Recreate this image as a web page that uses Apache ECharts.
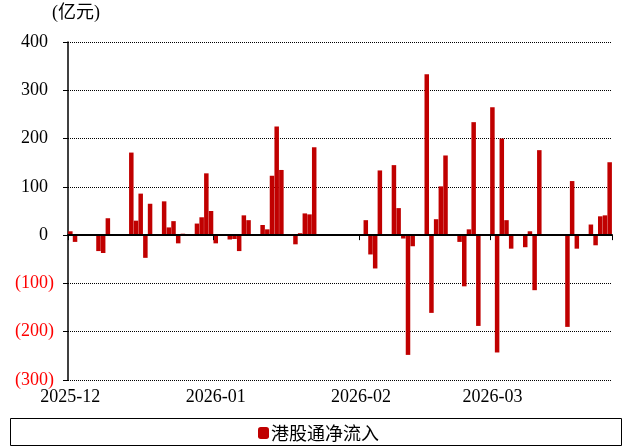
<!DOCTYPE html>
<html>
<head>
<meta charset="utf-8">
<script src="https://cdn.jsdelivr.net/npm/echarts@6/dist/echarts.min.js"></script>
<style>
  html, body { margin: 0; padding: 0; background: #fff; }
  #chart { width: 627px; height: 447px; }
</style>
</head>
<body>
<div id="chart"></div>
<script>
// 港股通净流入（亿元），按日
var tradeDates = [
  '2025-12-01', '2025-12-02', '2025-12-07', '2025-12-08', '2025-12-09',
  '2025-12-14', '2025-12-15', '2025-12-16', '2025-12-17', '2025-12-18',
  '2025-12-21', '2025-12-22', '2025-12-23', '2025-12-24', '2025-12-25',
  '2025-12-28', '2025-12-29', '2025-12-30', '2025-12-31', '2026-01-01',
  '2026-01-04', '2026-01-05', '2026-01-06', '2026-01-07', '2026-01-08',
  '2026-01-11', '2026-01-12', '2026-01-13', '2026-01-14', '2026-01-15',
  '2026-01-18', '2026-01-19', '2026-01-20', '2026-01-21', '2026-01-22',
  '2026-02-02', '2026-02-03', '2026-02-04', '2026-02-05',
  '2026-02-08', '2026-02-09', '2026-02-10', '2026-02-11', '2026-02-12',
  '2026-02-15', '2026-02-16', '2026-02-17', '2026-02-18', '2026-02-19',
  '2026-02-22', '2026-02-23', '2026-02-24', '2026-02-25', '2026-02-26',
  '2026-03-01', '2026-03-02', '2026-03-03', '2026-03-04', '2026-03-05',
  '2026-03-08', '2026-03-09', '2026-03-10', '2026-03-11',
  '2026-03-17', '2026-03-18', '2026-03-19',
  '2026-03-22', '2026-03-23', '2026-03-24', '2026-03-25', '2026-03-26'
];
var netInflow = [
  8, -14, -33, -37, 35,
  171, 30, 86, -47, 65,
  70, 16, 29, -17, 3,
  24, 37, 128, 50, -17,
  -9, -8, -33, 41, 31,
  21, 12, 123, 225, 135,
  -19, 4, 45, 43, 182,
  31, -40, -69, 134,
  145, 56, -7, -248, -23,
  333, -161, 33, 101, 165,
  -14, -106, 12, 234, -188,
  265, -243, 200, 31, -28,
  -25, 8, -114, 176,
  -190, 112, -28,
  22, -21, 39, 41, 151
];
var monthLabels = ['2025-12', '2026-01', '2026-02', '2026-03'];
var seriesName = '港股通净流入';
var unitText = '(亿元)';

// 日历日作为类目（无数据的日子为空）
var days = [];
var t = Date.UTC(2025, 11, 1), end = Date.UTC(2026, 2, 26);
for (; t <= end; t += 86400000) {
  days.push(new Date(t).toISOString().slice(0, 10));
}
var lookup = {};
tradeDates.forEach(function (d, i) { lookup[d] = netInflow[i]; });
var barData = days.map(function (d) { return d in lookup ? lookup[d] : null; });

function isMonthStart(index, value) {
  return value.slice(8) === '01' && monthLabels.indexOf(value.slice(0, 7)) > -1;
}

var serif = 'Liberation Serif, Times New Roman, serif';

var chart = echarts.init(document.getElementById('chart'));
var option = {
  backgroundColor: '#fff',
  animation: false,
  grid: { left: 68, right: 15, top: 42, bottom: 67 },
  graphic: [
    {
      type: 'text', left: 52, top: 4,
      style: { text: unitText, font: '18px Liberation Serif, Noto Sans CJK SC', fill: '#000' }
    },
    {
      type: 'rect', shape: { x: 10.5, y: 418.5, width: 611, height: 27 },
      style: { fill: 'none', stroke: '#000', lineWidth: 1 }
    }
  ],
  legend: {
    left: 253, top: 419,
    data: [seriesName],
    icon: 'roundRect',
    itemWidth: 11, itemHeight: 12,
    textStyle: { fontFamily: 'Noto Sans CJK SC', fontSize: 18, color: '#000', padding: [0, 0, 0, -3] }
  },
  xAxis: [
    {
      type: 'category',
      data: days,
      position: 'bottom',
      z: 10,
      axisLine: { onZero: true, lineStyle: { color: '#000', width: 2 } },
      axisTick: { show: true, interval: isMonthStart, length: 5, lineStyle: { color: '#000', width: 1 } },
      axisLabel: { show: false },
      splitLine: { show: false }
    },
    {
      type: 'category',
      data: days,
      position: 'bottom',
      axisLine: { show: false, onZero: false },
      axisTick: { show: false },
      axisLabel: {
        interval: isMonthStart,
        margin: 8,
        fontFamily: serif,
        fontSize: 18,
        color: '#000',
        formatter: function (v) { return v.slice(0, 7); }
      },
      splitLine: { show: false }
    }
  ],
  yAxis: {
    type: 'value',
    min: -300,
    max: 400,
    interval: 100,
    axisLine: { show: true, lineStyle: { color: '#000', width: 1.5 } },
    axisTick: { show: true, length: 5, lineStyle: { color: '#000' } },
    splitLine: { lineStyle: { color: '#000', type: 'dotted', width: 1 } },
    axisLabel: {
      margin: 14,
      formatter: function (v) {
        return v < 0 ? '{n|(' + (-v) + ')}' : '{p|' + v + '}';
      },
      rich: {
        p: { color: '#000', fontFamily: serif, fontSize: 18, padding: [0, 6, 0, 0] },
        n: { color: '#ff0000', fontFamily: serif, fontSize: 18 }
      }
    }
  },
  series: [
    {
      name: seriesName,
      type: 'bar',
      xAxisIndex: 0,
      data: barData,
      barCategoryGap: '4%',
      itemStyle: { color: '#c00000' }
    }
  ]
};
chart.setOption(option);
</script>
</body>
</html>
